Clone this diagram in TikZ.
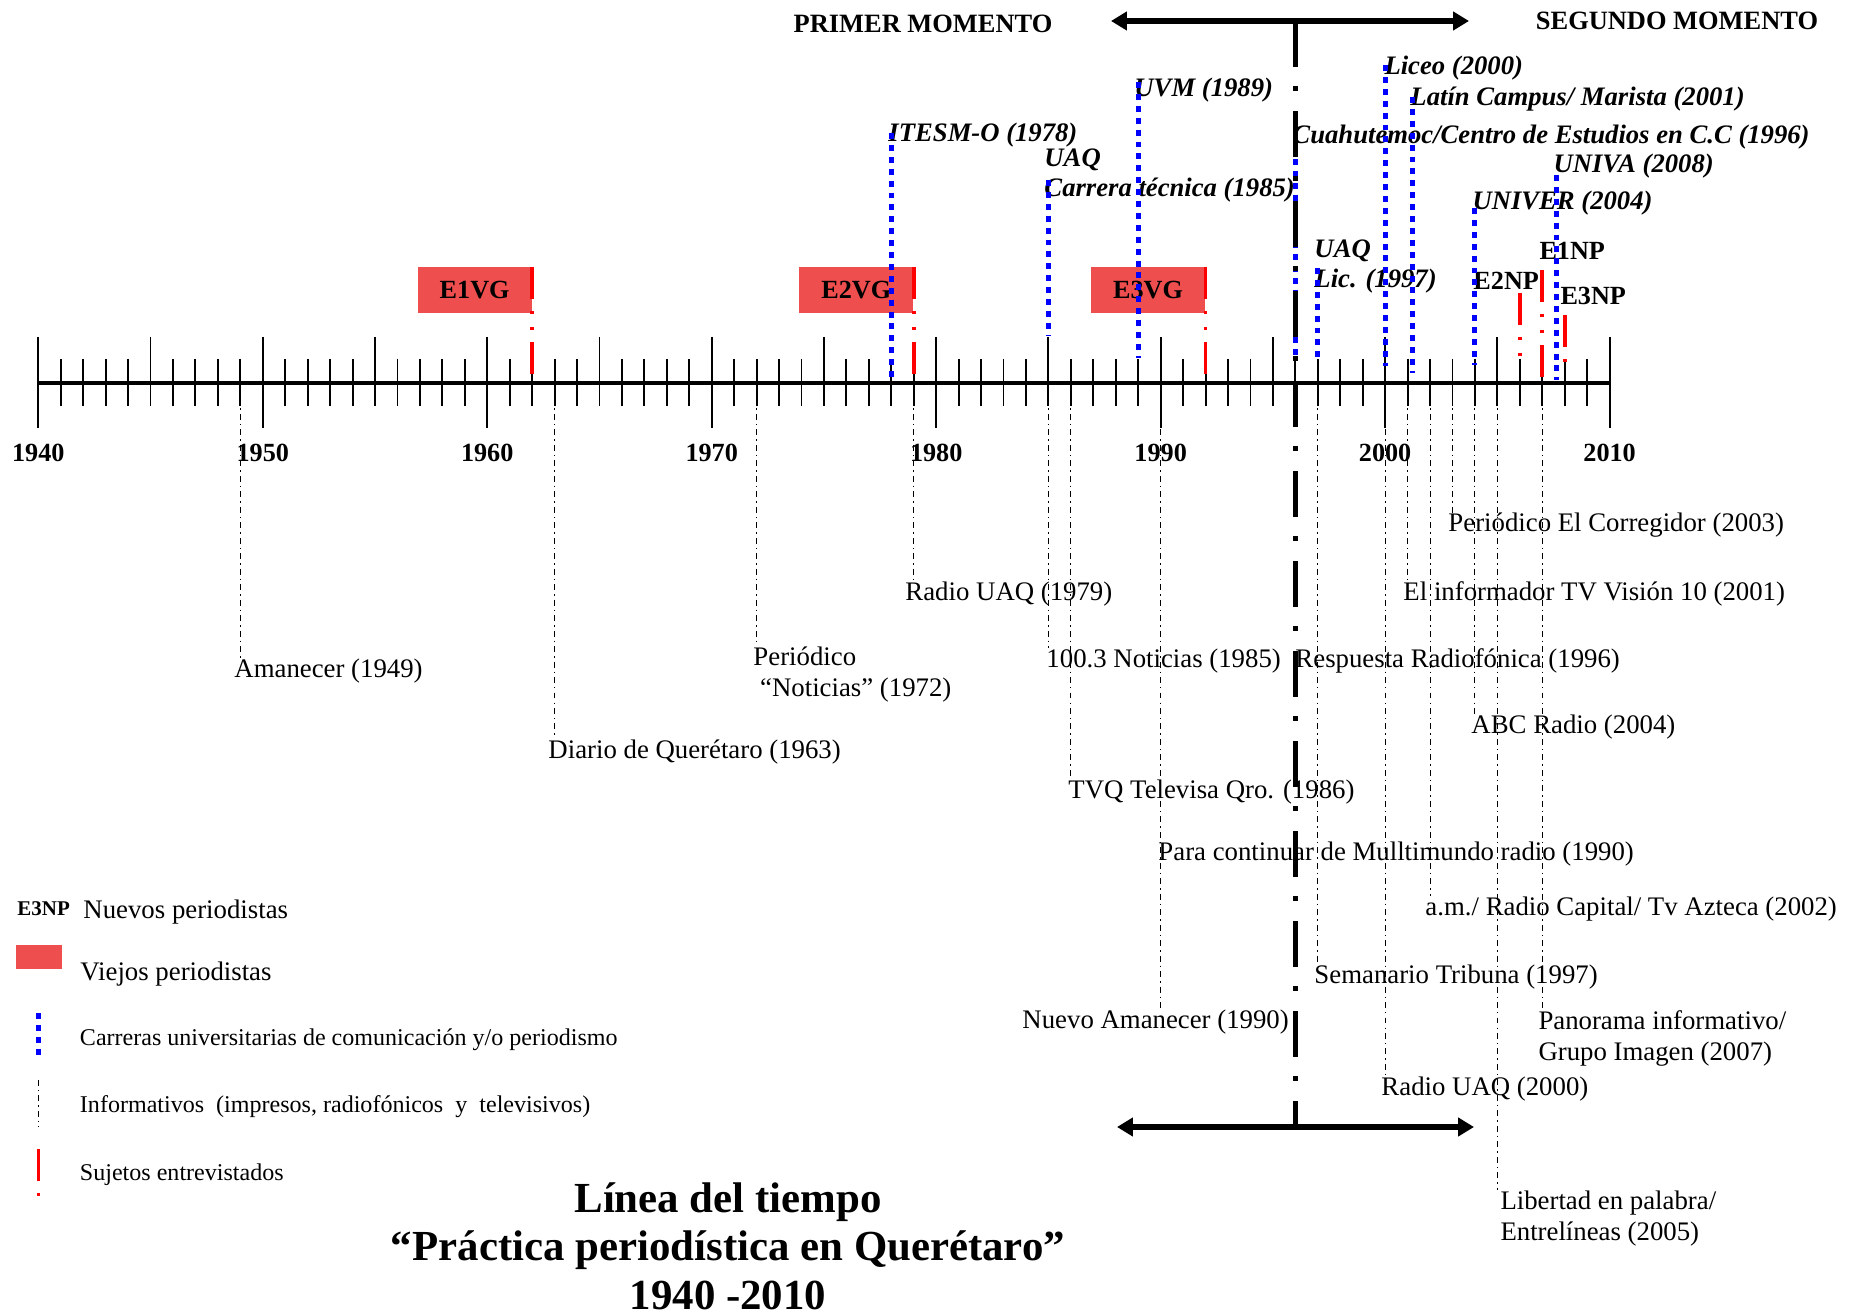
\documentclass[tikz,border=0pt]{standalone}
\usepackage{fontspec}
\setmainfont{Liberation Serif}
\usetikzlibrary{arrows.meta, positioning}

\definecolor{viejo}{RGB}{238,78,78}

\tikzset{
    info/.style={font=\fontsize{11.25}{13}\selectfont, inner sep=0pt, anchor=base west, align=left},
    leyenda/.style={font=\fontsize{10.1}{12}\selectfont, inner sep=0pt, anchor=base west},
    carrera/.style={font=\fontsize{11.2}{13}\selectfont\bfseries\itshape, inner sep=0pt, anchor=base west, align=left},
    sujeto/.style={font=\fontsize{11}{13}\selectfont\bfseries, inner sep=0pt, anchor=base west},
    viejobox/.style={fill=viejo, minimum width=47.9pt, minimum height=19.3pt, inner sep=0pt, anchor=north east, font=\fontsize{11}{13}\selectfont\bfseries},
    tick/.style={line width=0.8pt},
    infoline/.style={line width=0.45pt, dash pattern=on 2.5pt off 1.7pt on 0.6pt off 1.7pt},
    carreraline/.style={blue, line width=2.1pt, dash pattern=on 2.5pt off 2.5pt},
    sujetoline/.style={red, line width=1.5pt, dash pattern=on 13.4pt off 5pt on 1.3pt off 5.5pt on 1.3pt off 5pt},
    momento/.style={line width=2.4pt, arrows={Triangle[length=6.7pt,width=7.6pt]-Triangle[length=6.7pt,width=7.6pt]}},
    corte/.style={line width=2.3pt, dash pattern=on 19.3pt off 8pt on 2.1pt off 8.4pt},
}

\begin{document}
\begin{tikzpicture}[x=0.42pt, y=-0.42pt,
    declare function={yx(\t)=38.3+(\t-1940)*22.447;}]
    \useasboundingbox (0,0) rectangle (1857,1315);

    % eje del tiempo
    \coordinate (inicio) at ({yx(1940)},383);
    \coordinate (fin) at ({yx(2010)},383);
    \draw[line width=1.3pt] (inicio) -- (fin);
    \foreach \a in {1940,...,2010}{
        \pgfmathsetmacro{\ttop}{mod(\a,5)==0 ? 337 : 359}
        \pgfmathsetmacro{\tbot}{mod(\a,10)==0 ? 428 : 406}
        \draw[tick] ({yx(\a)},\ttop) -- ({yx(\a)},\tbot);
    }
    \foreach \a in {1940,1950,...,2010}
        \node[font=\fontsize{11}{13}\selectfont\bfseries, inner sep=0pt, anchor=base] (y\a) at ({yx(\a)},462) {\a};

    % momentos
    \node[font=\fontsize{11.1}{13}\selectfont\bfseries, inner sep=0pt] (primer) at (923,24) {PRIMER MOMENTO};
    \node[font=\fontsize{11.1}{13}\selectfont\bfseries, inner sep=0pt] (segundo) at (1677,21) {SEGUNDO MOMENTO};

    % viejos periodistas
    \node[viejobox] (e1vg) at ({yx(1962)},267) {E1VG};
    \node[viejobox] (e2vg) at ({yx(1979)},267) {E2VG};
    \node[viejobox] (e3vg) at ({yx(1992)},267) {E3VG};

    % nuevos periodistas
    \node[sujeto] (e1np) at (1539,260) {E1NP};
    \node[sujeto] (e2np) at (1473,290) {E2NP};
    \node[sujeto] (e3np) at (1560,305) {E3NP};

    % carreras universitarias
    \node[carrera] (itesm) at (888,142) {ITESM-O (1978)};
    \node[carrera] (uaq85) at (1044,197) {UAQ\\Carrera técnica (1985)};
    \node[carrera] (uvm) at (1134,97) {UVM (1989)};
    \node[carrera] (cuauh) at (1292,144) {Cuahutemoc/Centro de Estudios en C.C (1996)};
    \node[carrera] (uaq97) at (1314,288) {UAQ\\Lic. (1997)};
    \node[carrera] (liceo) at (1384,75) {Liceo (2000)};
    \node[carrera] (latin) at (1410,106) {Latín Campus/ Marista (2001)};
    \node[carrera] (univer) at (1472,210) {UNIVER (2004)};
    \node[carrera] (univa) at (1553,173) {UNIVA (2008)};

    % informativos
    \node[info] (amanecer) at (234,677) {Amanecer (1949)};
    \node[info] (diario) at (548,758) {Diario de Querétaro (1963)};
    \node[info] (noticias) at (753,696) {Periódico\\\hspace*{0.25em}“Noticias” (1972)};
    \node[info] (radio79) at (905,600) {Radio UAQ (1979)};
    \node[info] (cien) at (1046,667) {100.3 Noticias (1985)};
    \node[info] (tvq) at (1068,798) {TVQ Televisa Qro. (1986)};
    \node[info] (multimundo) at (1158,860) {Para continuar de Mulltimundo radio (1990)};
    \node[info] (nuevo) at (1022,1028) {Nuevo Amanecer (1990)};
    \node[info] (respuesta) at (1295,667) {Respuesta Radiofónica (1996)};
    \node[info] (tribuna) at (1314,983) {Semanario Tribuna (1997)};
    \node[info] (radio00) at (1381,1095) {Radio UAQ (2000)};
    \node[info] (informador) at (1403,600) {El informador TV Visión 10 (2001)};
    \node[info] (azteca) at (1425,915) {a.m./ Radio Capital/ Tv Azteca (2002)};
    \node[info] (corregidor) at (1448,532) {Periódico El Corregidor (2003)};
    \node[info] (abc) at (1471,733) {ABC Radio (2004)};
    \node[info] (libertad) at (1500,1240) {Libertad en palabra/\\Entrelíneas (2005)};
    \node[info] (panorama) at (1538,1060) {Panorama informativo/\\Grupo Imagen (2007)};

    \foreach \a in {1949,1963,1972,1979,1985,1986,1990,1997,2000,2001,2002,2003,2004,2005,2007}
        \coordinate (p\a) at ({yx(\a)},383);
    \draw[infoline]
        (p1949) -- (p1949 |- amanecer.north)
        (p1963) -- (p1963 |- diario.north)
        (p1972) -- (p1972 |- noticias.north)
        (p1979) -- (p1979 |- radio79.north)
        (p1985) -- (p1985 |- cien.north)
        (p1986) -- (p1986 |- tvq.north)
        (p1990) -- (p1990 |- nuevo.north)
        (p1997) -- (p1997 |- tribuna.north)
        (p2000) -- (p2000 |- radio00.north)
        (p2001) -- (p2001 |- informador.north)
        (p2002) -- (p2002 |- azteca.north)
        (p2003) -- (p2003 |- corregidor.north)
        (p2004) -- (p2004 |- abc.north)
        (p2005) -- (p2005 |- libertad.north)
        (p2007) -- (p2007 |- panorama.north);

    \foreach \a/\t/\b [count=\i] in {1978/133/378, 1985/180/335, 1989/82/358, 1996/147/355, 1997/268/358,
            2000/65/366, 2001.2/97/373, 2004/208/365, 2007.65/175/380}{
        \coordinate (ca\i) at ({yx(\a)},\t);
        \coordinate (cb\i) at ({yx(\a)},\b);
        \draw[carreraline] (ca\i) -- (cb\i);
    }

    % sujetos entrevistados
    \coordinate (t1np) at ({yx(2007)},270);  \coordinate (b1np) at ({yx(2007)},378);
    \coordinate (t2np) at ({yx(2006)},293);  \coordinate (b2np) at ({yx(2006)},356);
    \coordinate (t3np) at ({yx(2008)},315);  \coordinate (b3np) at ({yx(2008)},362);
    \draw[sujetoline]
        (e1vg.north east) -- (e1vg.north east |- 0,378)
        (e2vg.north east) -- (e2vg.north east |- 0,378)
        (e3vg.north east) -- (e3vg.north east |- 0,378)
        (t1np) -- (b1np)
        (t2np) -- (b2np)
        (t3np) -- (b3np);

    % primer y segundo momento
    \coordinate (arribaI) at (1111,21);
    \coordinate (arribaD) at (1469,21);
    \coordinate (abajoI) at (1117,1127);
    \coordinate (abajoD) at (1474,1127);
    \coordinate (corteA) at ({yx(1996)},21);
    \coordinate (corteB) at ({yx(1996)},1127);
    \draw[corte] (corteA) -- (corteB);
    \draw[momento] (arribaI) -- (arribaD);
    \draw[momento] (abajoI) -- (abajoD);

    % leyenda
    \node[sujeto, font=\fontsize{8.8}{10}\selectfont\bfseries] (leyNP) at (17,915) {E3NP};
    \node[info] (nuevos) at (83,918) {Nuevos periodistas};
    \node[fill=viejo, minimum width=19.2pt, minimum height=9.7pt, inner sep=0pt, anchor=north west] (leyVG) at (15.6,945) {};
    \node[info] (viejos) at (80,980) {Viejos periodistas};
    \coordinate (lc1) at (38.7,1013);  \coordinate (lc2) at (38.7,1055);
    \draw[carreraline] (lc1) -- (lc2);
    \node[leyenda] (carreras) at (79.5,1045) {Carreras universitarias de comunicación y/o periodismo};
    \coordinate (li1) at (38.4,1080);  \coordinate (li2) at (38.4,1127);
    \draw[infoline] (li1) -- (li2);
    \node[leyenda] (informativos) at (79.5,1112) {Informativos\ \ (impresos, radiofónicos\ \ y\ \ televisivos)};
    \coordinate (ls1) at (38.4,1149);  \coordinate (ls2) at (38.4,1196);
    \draw[sujetoline] (ls1) -- (ls2);
    \node[leyenda] (sujetos) at (79.5,1180) {Sujetos entrevistados};

    % titulo
    \node[font=\fontsize{18}{20.4}\selectfont\bfseries, align=center, inner sep=0pt] (titulo) at (728,1246)
        {Línea del tiempo\\“Práctica periodística en Querétaro”\\1940 -2010};
\end{tikzpicture}
\end{document}
